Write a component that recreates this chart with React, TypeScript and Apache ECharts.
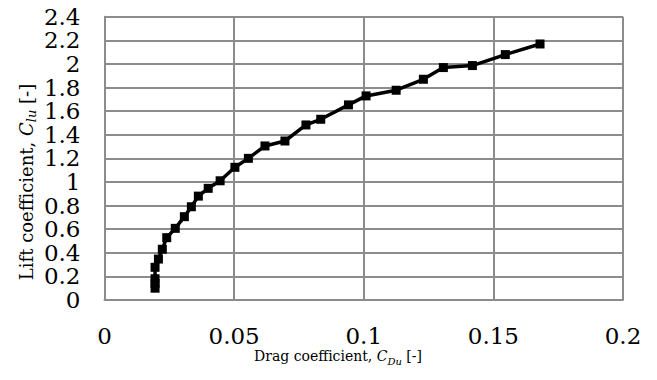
import React, { useEffect, useRef } from "react";
import * as echarts from "echarts";

// Drag coefficient C_Du (x) and lift coefficient C_lu (y)
const dragValues = [
  0.0195, 0.0195, 0.0195, 0.0195, 0.0208, 0.0223, 0.024, 0.0273, 0.0308, 0.0335,
  0.0362, 0.04, 0.0446, 0.0503, 0.0555, 0.0619, 0.0696, 0.0777, 0.0834, 0.0941,
  0.1009, 0.1125, 0.123, 0.1307, 0.1419, 0.1546, 0.168,
];
const liftValues = [
  0.1, 0.14, 0.18, 0.277, 0.347, 0.43, 0.528, 0.607, 0.706, 0.79, 0.88, 0.946, 1.01,
  1.124, 1.2, 1.305, 1.347, 1.483, 1.531, 1.653, 1.729, 1.777, 1.87, 1.969, 1.986,
  2.079, 2.169,
];

const FONT = "DejaVu Serif";

const richStyles = (size: number, sub: number) => ({
  a: { fontFamily: FONT, fontSize: size, fill: "#000", verticalAlign: "bottom", lineHeight: size + 2, padding: [0, 0, 3, 0] },
  c: { fontFamily: FONT, fontSize: size, fontStyle: "italic", fill: "#000", verticalAlign: "bottom", lineHeight: size + 2, padding: [0, 0, 3, 0] },
  s: { fontFamily: FONT, fontSize: sub, fontStyle: "italic", fill: "#000", verticalAlign: "bottom", lineHeight: sub + 2, padding: [0, 0, 0, 0] },
});

export default function App() {
  const ref = useRef<HTMLDivElement>(null);
  useEffect(() => {
    if (!ref.current) return;
    const chart = echarts.init(ref.current, null, { renderer: "svg" });
    const data = dragValues.map((x, i) => [x, liftValues[i]]);
    chart.setOption({
      animation: false,
      backgroundColor: "#ffffff",
      grid: { left: 104.5, right: 34, top: 16.7, bottom: 80, containLabel: false },
      xAxis: {
        type: "value",
        min: 0,
        max: 0.2,
        interval: 0.05,
        axisLine: { show: true, lineStyle: { color: "#8c8c8c", width: 2 } },
        axisTick: { show: false },
        splitLine: { show: true, lineStyle: { color: "#8c8c8c", width: 2 } },
        axisLabel: {
          color: "#000",
          fontFamily: FONT,
          fontSize: 23,
          margin: 24,
          formatter: (v: number) => String(+v.toFixed(3)),
        },
      },
      yAxis: {
        type: "value",
        min: 0,
        max: 2.4,
        interval: 0.2,
        axisLine: { show: true, lineStyle: { color: "#8c8c8c", width: 2 } },
        axisTick: { show: false },
        splitLine: { show: true, lineStyle: { color: "#8c8c8c", width: 2 } },
        axisLabel: {
          color: "#000",
          fontFamily: FONT,
          fontSize: 23,
          margin: 24,
          formatter: (v: number) => String(+v.toFixed(2)),
        },
      },
      series: [
        {
          type: "line",
          data,
          symbol: "rect",
          symbolSize: 9,
          lineStyle: { color: "#000", width: 3.5 },
          itemStyle: { color: "#000" },
        },
      ],
      graphic: [
        {
          type: "text",
          x: 338,
          y: 366,
          style: {
            text: "{a|Drag coefficient, }{c|C}{s|Du}{a| [-]}",
            align: "center",
            verticalAlign: "bottom",
            rich: richStyles(14, 10),
          },
        },
        {
          type: "text",
          x: 28,
          y: 182,
          rotation: Math.PI / 2,
          style: {
            text: "{a|Lift coefficient, }{c|C}{s|lu}{a| [-]}",
            align: "center",
            verticalAlign: "middle",
            rich: richStyles(18, 13),
          },
        },
      ],
    });
    return () => chart.dispose();
  }, []);
  return (
    <div
      ref={ref}
      style={{ position: "fixed", left: 0, top: 0, width: 657, height: 380 }}
    />
  );
}
